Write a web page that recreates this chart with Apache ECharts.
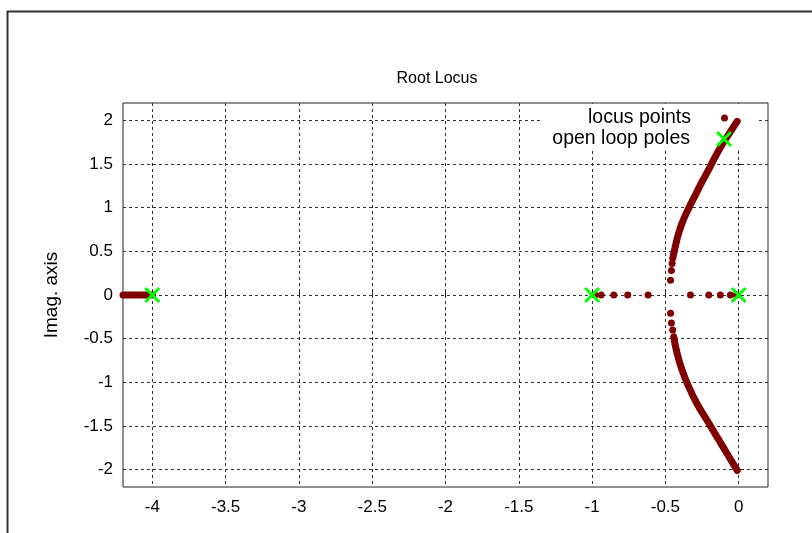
<!DOCTYPE html>
<html>
<head>
<meta charset="utf-8">
<script src="https://cdn.jsdelivr.net/npm/echarts@6/dist/echarts.min.js"></script>
<style>html,body{margin:0;padding:0;background:#fff}#c{width:812px;height:533px}</style>
</head>
<body>
<div id="c"></div>
<script>
// tick labels
var xTicks = [-4, -3.5, -3, -2.5, -2, -1.5, -1, -0.5, 0];
var yTicks = [-2, -1.5, -1, -0.5, 0, 0.5, 1, 1.5, 2];
// open loop poles
var poles = [[-4, 0], [-1, 0], [0, 0]];
// dense locus segments
var branchLeft = [[-4.2, 0], [-4.0, 0]];
var branchUpper = [[-0.450, 0.42], [-0.433, 0.55], [-0.411, 0.70], [-0.380, 0.85], [-0.345, 0.98], [-0.300, 1.13], [-0.252, 1.29], [-0.204, 1.44], [-0.158, 1.59], [-0.114, 1.72], [-0.068, 1.84], [-0.034, 1.93], [-0.010, 1.99]];
var branchLower = [[-0.443, -0.48], [-0.420, -0.67], [-0.386, -0.86], [-0.341, -1.05], [-0.286, -1.24], [-0.218, -1.43], [-0.150, -1.62], [-0.082, -1.81], [-0.010, -2.01]];
// sparse locus points
var sparsePoints = [[-0.98, 0], [-0.938, 0], [-0.852, 0], [-0.757, 0], [-0.618, 0], [-0.329, 0], [-0.204, 0], [-0.125, 0], [-0.057, 0], [-0.015, 0],
  [-0.465, 0.17], [-0.459, 0.28], [-0.454, 0.36], [-0.465, -0.21], [-0.459, -0.32], [-0.450, -0.40]];

var RED = '#800000';
var GREEN = '#00ff00';
var XPATH = 'path://M0,1.3L1.3,0L5,3.7L8.7,0L10,1.3L6.3,5L10,8.7L8.7,10L5,6.3L1.3,10L0,8.7L3.7,5Z';
var FONT = 'Liberation Sans';

var chart = echarts.init(document.getElementById('c'));
var lineSeries = function (d) {
  return {
    type: 'line', data: d, showSymbol: false, symbol: 'none', smooth: true,
    lineStyle: { color: RED, width: 7, cap: 'round', join: 'round' },
    itemStyle: { color: RED }, silent: true, z: 2, legendHoverLink: false
  };
};
chart.setOption({
  animation: false,
  backgroundColor: '#fff',
  title: {
    text: 'Root Locus', left: 432, top: 66, textAlign: 'center',
    textStyle: { fontFamily: FONT, fontSize: 16, fontWeight: 'normal', color: '#000' }
  },
  legend: [{
    data: [{ name: 'locus points', icon: 'circle' }],
    right: 84, top: 108, align: 'right', orient: 'vertical', padding: 0,
    itemWidth: 7, itemHeight: 7,
    textStyle: { fontFamily: FONT, fontSize: 19.5, color: '#000', padding: [0, 25, 0, 0] }
  }, {
    data: [{ name: 'open loop poles', icon: XPATH }],
    right: 80, top: 129, align: 'right', orient: 'vertical', padding: 0,
    itemWidth: 16, itemHeight: 16,
    textStyle: { fontFamily: FONT, fontSize: 19.5, color: '#000', padding: [0, 21, 0, 0] }
  }],
  grid: { left: 123, right: 44, top: 103, bottom: 46, show: true, borderColor: '#222', borderWidth: 1, backgroundColor: 'transparent' },
  xAxis: {
    type: 'value', min: -4.2, max: 0.2,
    axisLine: { show: false },
    axisTick: { show: true, inside: true, length: 5, lineStyle: { color: '#222' }, customValues: xTicks },
    axisLabel: { customValues: xTicks, margin: 12, fontFamily: FONT, fontSize: 17, color: '#000',
      formatter: function (v) { return String(v); } },
    splitLine: { show: true, lineStyle: { color: '#333', width: 1, type: [3, 3] } }
  },
  yAxis: {
    type: 'value', min: -2.2, max: 2.2,
    name: 'Imag. axis', nameLocation: 'middle', nameGap: 62, nameRotate: 90,
    nameTextStyle: { fontFamily: FONT, fontSize: 19, color: '#000' },
    axisLine: { show: false },
    axisTick: { show: true, inside: true, length: 5, lineStyle: { color: '#222' }, customValues: yTicks },
    axisLabel: { customValues: yTicks, margin: 10, fontFamily: FONT, fontSize: 17, color: '#000',
      formatter: function (v) { return String(v); } },
    splitLine: { show: true, lineStyle: { color: '#333', width: 1, type: [3, 3] } }
  },
  graphic: [{
    type: 'rect', left: 5, top: 9, shape: { x: 0, y: 0, width: 900, height: 600 },
    style: { fill: 'none', stroke: '#333', lineWidth: 2 }, silent: true, z: -10
  }, {
    type: 'rect', left: 540, top: 104, shape: { x: 0, y: 0, width: 217, height: 46 },
    style: { fill: '#fff', lineWidth: 0 }, silent: true, z: 1
  }],
  series: [
    lineSeries(branchLeft),
    lineSeries(branchUpper),
    lineSeries(branchLower),
    {
      name: 'locus points', type: 'scatter', data: sparsePoints, symbol: 'circle', symbolSize: 7,
      itemStyle: { color: RED, opacity: 1 }, z: 3
    },
    {
      name: 'open loop poles', type: 'scatter', data: poles, symbol: XPATH, symbolSize: 16,
      itemStyle: { color: GREEN, opacity: 1 }, z: 5
    }
  ]
});
</script>
</body>
</html>
